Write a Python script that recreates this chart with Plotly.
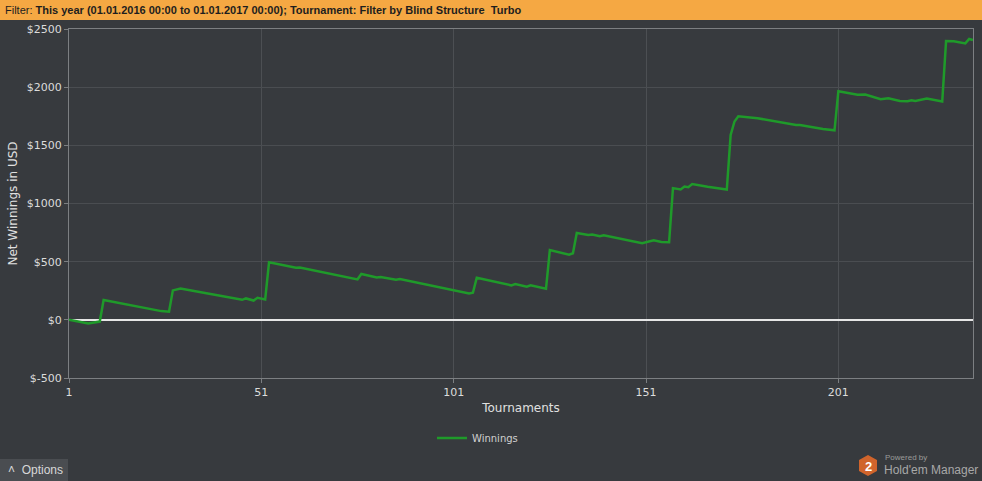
import plotly.graph_objects as go

# cumulative net winnings at the turning points of the graph
tournaments = [1, 6, 9, 10, 25, 27, 28, 30, 36, 46, 47, 49, 50, 52, 53, 60, 61, 76, 77, 81,
               82, 86, 87, 105, 106, 107, 116, 117, 120, 121, 125, 126, 131, 132, 133, 136,
               137, 139, 140, 150, 153, 155, 157, 158, 160, 161, 162, 163, 167, 172, 173,
               174, 175, 177, 180, 190, 191, 197, 200, 201, 206, 208, 212, 214, 217, 219,
               220, 221, 224, 228, 229, 231, 234, 235, 236]
winnings = [0, -32, -15, 170, 75, 70, 253, 270, 233, 172, 184, 166, 190, 175, 494, 448, 450,
            348, 394, 365, 368, 345, 350, 227, 233, 362, 296, 307, 284, 296, 267, 600, 560,
            572, 747, 730, 733, 718, 726, 658, 684, 670, 667, 1132, 1120, 1146, 1140, 1167,
            1144, 1120, 1590, 1705, 1750, 1745, 1733, 1675, 1675, 1640, 1629, 1965, 1934,
            1937, 1897, 1905, 1882, 1880, 1888, 1882, 1902, 1877, 2396, 2394, 2376, 2414, 2405]

x_ticks = [1, 51, 101, 151, 201]
y_ticks = [-500, 0, 500, 1000, 1500, 2000, 2500]
y_labels = ["$-500", "$0", "$500", "$1000", "$1500", "$2000", "$2500"]

W, H = 982, 481
L, R, T, B = 69, 9, 29, 103
pw, ph = W - L - R, H - T - B

def px(x):
    return (x - L) / pw

def py(y):
    return (H - B - y) / ph

bg = "#373a3e"
fnt = "DejaVu Sans"
ui = "Liberation Sans"

fig = go.Figure()
fig.add_trace(go.Scatter(x=tournaments, y=winnings, mode="lines", name="Winnings",
                         line=dict(color="#1f9a2a", width=2.5)))

fig.update_layout(
    width=W, height=H,
    margin=dict(l=L, r=R, t=T, b=B),
    paper_bgcolor=bg, plot_bgcolor=bg,
    font=dict(family=fnt, size=11, color="#dcdcdc"),
    showlegend=True,
    legend=dict(orientation="h", x=px(432), xanchor="left", y=py(438), yanchor="middle",
                font=dict(size=10, color="#d0d0d0"), bgcolor="rgba(0,0,0,0)"),
    xaxis=dict(range=[1, 236], tickvals=x_ticks, showgrid=True, gridcolor="#4c4f53",
               showline=True, linecolor="#7c7f82", mirror=True, ticks="outside",
               ticklen=4, tickcolor="#7c7f82", zeroline=False,
               tickfont=dict(size=11, color="#dcdcdc"),
               title=dict(text="Tournaments", font=dict(size=12, color="#e0e0e0"), standoff=5)),
    yaxis=dict(range=[-500, 2500], tickvals=y_ticks, ticktext=y_labels, showgrid=True,
               gridcolor="#4a4d51", showline=True, linecolor="#7c7f82", mirror=True,
               ticks="outside", ticklen=4, tickcolor="#7c7f82",
               zeroline=True, zerolinecolor="#e6e6e6", zerolinewidth=2,
               tickfont=dict(size=11, color="#dcdcdc"),
               title=dict(text="Net Winnings in USD", font=dict(size=12, color="#e0e0e0"), standoff=6)),
)

shapes = [
    # filter bar
    dict(type="rect", xref="paper", yref="paper", x0=px(0), x1=px(W), y0=py(0), y1=py(20),
         fillcolor="#f5a843", line=dict(width=0), layer="above"),
    # options button
    dict(type="rect", xref="paper", yref="paper", x0=px(0), x1=px(68), y0=py(459), y1=py(481),
         fillcolor="#4a4d51", line=dict(width=0), layer="above"),
    # logo hexagon
    dict(type="path", xref="paper", yref="paper",
         path="M %f %f L %f %f L %f %f L %f %f L %f %f L %f %f Z" % (
             px(868), py(455), px(877), py(460), px(877), py(471),
             px(868), py(476), px(859), py(471), px(859), py(460)),
         fillcolor="#d0642c", line=dict(width=0), layer="above"),
]
fig.update_layout(shapes=shapes)

fig.add_annotation(x=px(3), y=py(10), xref="paper", yref="paper", xanchor="left", yanchor="middle",
                   showarrow=False, font=dict(family=ui, size=11, color="#1e1e1e"),
                   text="Filter: <b>This year (01.01.2016 00:00 to 01.01.2017 00:00); Tournament: Filter by Blind Structure  Turbo</b>")
fig.add_annotation(x=px(6), y=py(470), xref="paper", yref="paper", xanchor="left", yanchor="middle",
                   showarrow=False, font=dict(family=ui, size=12, color="#d8d8d8"),
                   text="˄  Options")
fig.add_annotation(x=px(868), y=py(466), xref="paper", yref="paper", xanchor="center", yanchor="middle",
                   showarrow=False, font=dict(family=ui, size=13, color="#ffffff"), text="<b>2</b>")
fig.add_annotation(x=px(883), y=py(457), xref="paper", yref="paper", xanchor="left", yanchor="middle",
                   showarrow=False, font=dict(family=ui, size=8, color="#9a9a9a"), text="Powered by")
fig.add_annotation(x=px(882), y=py(470), xref="paper", yref="paper", xanchor="left", yanchor="middle",
                   showarrow=False, font=dict(family=ui, size=12, color="#a8a8a8"), text="Hold'em Manager")

fig.write_html("out.html", config={"displayModeBar": False},
               post_script="document.body.style.margin='0';")
